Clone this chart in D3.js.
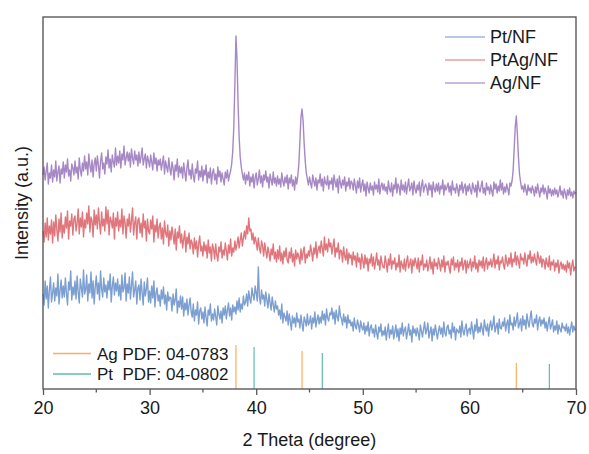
<!DOCTYPE html>
<html>
<head>
<meta charset="utf-8">
<script src="https://cdn.jsdelivr.net/npm/d3@7"></script>
<style>
    body { margin: 0; background: #fff; }
    text { font-family: "Liberation Sans", Arial, sans-serif; fill: #1a1a1a; }
</style>
</head>
<body>
<svg id="chart" width="589" height="454"></svg>
<script>
// -----------------------------
// data (2θ from 20 to 70 in 0.1° steps)
// -----------------------------

const thetaStart = 20
const thetaStep = 0.1

const ptNF = [
    95,84,108,90,103,81,99,112,87,96,
    106,88,101,93,115,85,98,109,91,103,
    92,111,96,84,107,99,118,89,102,94,
    108,90,113,97,86,110,101,92,119,95,
    99,114,88,105,96,117,91,108,85,102,
    113,95,106,89,118,100,92,111,97,104,
    91,108,99,115,87,103,112,94,106,98,
    110,93,104,89,114,97,101,116,88,105,
    96,112,90,103,117,92,99,108,85,101,
    104,89,110,96,84,107,93,100,111,87,
    98,86,103,91,108,82,96,101,88,94,
    83,99,90,102,85,94,79,97,88,92,
    91,78,95,84,89,100,76,88,82,93,
    80,92,73,86,79,90,74,84,91,77,
    72,85,68,79,74,87,65,78,81,70,
    77,66,82,71,63,79,74,85,68,75,
    69,80,72,64,83,75,70,78,66,81,
    74,83,70,79,86,73,81,69,84,77,
    82,75,88,79,91,77,85,80,93,84,
    87,95,83,98,90,86,101,94,89,103,
    96,88,122,92,85,99,90,94,83,97,
    89,81,95,86,79,92,84,77,88,80,
    83,74,79,70,85,66,76,72,68,78,
    64,75,68,59,73,66,71,62,76,67,
    70,61,74,65,58,72,68,63,75,64,
    67,73,60,71,66,77,62,69,74,65,
    72,66,78,69,75,64,80,71,68,76,
    74,81,70,77,65,79,72,68,83,73,
    70,64,75,67,72,61,74,66,69,63,
    67,58,71,63,60,69,64,57,68,62,
    59,66,55,63,58,67,53,61,64,56,
    60,52,64,56,50,62,57,65,53,58,
    54,62,49,58,65,51,59,55,63,50,
    57,64,52,60,48,61,55,66,53,59,
    62,50,57,65,54,59,47,63,56,60,
    53,61,56,49,64,58,52,60,67,55,
    59,66,51,57,62,48,60,54,64,57,
    50,58,63,55,61,52,67,56,53,62,
    64,55,59,51,66,57,62,49,60,58,
    56,63,52,68,58,54,61,65,53,59,
    61,55,67,59,50,64,58,70,56,62,
    57,66,60,54,69,62,58,65,53,63,
    68,59,64,73,57,62,66,55,70,61,
    60,67,63,71,58,65,69,56,74,64,
    66,59,72,63,68,76,61,65,70,58,
    73,64,69,60,75,67,62,71,78,65,
    62,70,66,74,59,68,72,63,69,65,
    71,61,67,58,66,72,60,64,69,57,
    63,59,68,55,64,60,57,66,61,62,
    58,65,56,62,54,61,67,57,63,59,
    60
]

const ptAgNF = [
    158,147,166,152,171,149,163,155,169,146,
    167,153,174,159,148,170,157,176,151,164,
    156,172,161,178,150,168,163,175,154,170,
    173,158,166,180,155,171,162,177,152,169,
    161,176,165,183,157,172,168,152,179,164,
    174,160,181,166,155,177,163,170,158,182,
    165,179,154,172,168,161,176,150,171,163,
    177,158,169,162,180,155,173,166,151,170,
    163,175,157,168,181,154,166,172,150,169,
    171,156,166,152,175,161,168,148,170,158,
    155,169,160,173,147,164,157,170,151,162,
    166,150,161,145,168,156,152,164,143,158,
    149,162,154,145,160,139,157,151,163,146,
    155,141,150,158,137,152,145,156,140,149,
    146,135,151,140,148,132,145,153,138,143,
    133,147,138,144,131,149,136,142,128,145,
    140,130,145,134,128,142,137,147,131,139,
    134,146,138,129,144,136,150,133,141,137,
    148,139,145,152,141,149,156,143,151,158,
    150,163,155,171,158,160,149,156,145,152,
    147,139,151,141,136,148,143,133,146,138,
    131,142,136,128,140,134,145,130,137,127,
    139,130,143,128,136,125,138,132,141,129,
    126,137,131,141,127,135,123,139,130,136,
    132,125,140,129,137,142,126,135,131,138,
    133,144,137,128,141,135,147,131,139,143,
    136,148,141,133,152,139,145,137,150,142,
    146,135,143,150,132,141,137,146,130,139,
    138,127,142,133,129,140,125,136,131,134,
    124,137,129,133,122,136,127,131,120,135,
    128,121,134,125,131,118,130,126,135,123,
    132,120,127,136,124,129,119,133,126,122,
    121,133,126,117,130,124,135,120,128,125,
    131,119,126,122,134,117,128,124,120,130,
    118,127,133,121,125,130,116,129,123,131,
    126,120,131,117,128,124,134,119,125,122,
    129,118,124,132,120,127,115,130,123,126,
    120,131,125,118,129,122,133,117,127,124,
    128,121,116,130,124,132,119,126,122,129,
    117,127,123,131,119,125,129,116,128,121,
    125,130,118,127,122,133,120,126,117,129,
    123,128,121,132,118,126,131,120,127,124,
    130,122,127,135,121,129,125,133,119,128,
    126,132,124,120,134,127,123,131,125,136,
    122,130,127,137,124,133,128,121,135,129,
    131,125,136,128,123,134,130,138,126,132,
    127,135,129,124,137,131,126,133,122,130,
    128,120,131,125,122,133,119,127,124,129,
    118,126,122,129,116,124,127,120,125,119,
    124,117,128,121,126,114,123,129,118,122,
    121
]

const agNF = [
    214,222,209,218,226,205,216,211,224,207,
    219,212,228,208,217,223,206,220,215,227,
    211,224,217,230,213,219,208,225,221,214,
    228,216,222,210,231,219,213,226,218,233,
    220,227,214,235,223,217,229,212,225,231,
    218,233,224,211,228,236,220,226,215,232,
    225,239,221,230,217,234,227,222,241,224,
    233,226,238,221,235,229,243,224,231,237,
    228,236,222,240,231,225,238,229,234,223,
    237,226,232,241,224,230,235,221,233,228,
    222,234,227,219,236,225,231,218,229,224,
    230,219,226,233,215,228,222,217,231,220,
    214,227,221,209,224,218,230,212,223,216,
    222,211,226,217,208,221,229,214,219,210,
    225,213,207,220,216,228,209,218,212,223,
    208,219,214,224,206,217,211,221,205,216,
    220,209,215,205,222,212,218,207,216,210,
    204,217,211,219,208,214,218,225,238,262,
    305,353,330,285,252,232,222,215,209,216,
    205,214,209,217,203,212,207,215,201,211,
    216,204,210,219,206,213,202,214,209,218,
    207,212,201,215,209,204,217,206,211,203,
    213,205,210,202,216,208,203,212,206,214,
    200,211,206,214,203,209,199,212,205,213,
    225,248,272,280,268,245,228,216,210,204,
    212,206,201,214,208,203,211,199,209,206,
    215,203,210,198,212,206,204,213,200,208,
    205,211,199,214,207,202,210,196,213,206,
    201,209,204,212,198,207,203,211,200,208,
    206,199,210,203,196,208,201,211,197,204,
    209,198,205,193,207,201,196,206,199,203,
    194,207,200,204,197,210,195,203,206,199,
    205,198,202,195,208,200,197,206,193,204,
    200,211,196,205,202,194,209,199,204,197,
    207,195,203,210,198,201,206,194,208,200,
    196,204,199,207,193,203,209,197,202,205,
    201,194,206,199,204,192,207,200,197,205,
    198,206,195,203,200,209,194,204,199,202,
    206,197,203,194,208,199,201,196,205,200,
    193,204,199,207,196,202,205,194,203,198,
    205,199,195,206,201,197,204,192,208,200,
    197,203,208,196,201,194,206,199,202,195,
    204,198,193,207,200,205,196,203,198,209,
    199,206,195,202,197,205,200,194,206,203,
    208,218,240,262,273,255,232,215,207,200,
    203,197,205,199,194,204,198,201,196,203,
    199,193,202,196,205,198,192,201,197,204,
    195,201,197,190,203,196,200,193,199,194,
    201,195,199,192,197,203,194,198,191,200,
    196,190,199,194,201,193,197,191,198,195,
    197
]

const seriesNames = ['Pt/NF', 'PtAg/NF', 'Ag/NF']
const seriesValues = [ptNF, ptAgNF, agNF]
const seriesColours = ['#7c9fd1', '#e0767c', '#a688c5']
const legendColours = ['#9db6dd', '#eb9da1', '#bba3d3']

// reference patterns: 2θ position and stick height
const agPdfName = 'Ag PDF: 04-0783'
const agPdfTheta = [38.1, 44.3, 64.4]
const agPdfHeight = [44, 38, 26]
const ptPdfName = 'Pt\u00a0 PDF: 04-0802'
const ptPdfTheta = [39.8, 46.2, 67.5]
const ptPdfHeight = [42, 36, 25]
const pdfColours = ['#ffab5c', '#5dbcb0']

const xTicks = [20, 30, 40, 50, 60, 70]
const xMinorTicks = [25, 35, 45, 55, 65]

// -----------------------------
// layout
// -----------------------------

const margin = {left: 43, right: 13, top: 17, bottom: 65}
const w = 589
const h = 454

const xScale = d3.scaleLinear()
    .domain([20, 70])
    .range([margin.left, w - margin.right])

const yScale = d3.scaleLinear()
    .domain([0, 372])
    .range([h - margin.bottom, margin.top])

const svg = d3.select('#chart')

// -----------------------------
// curves
// -----------------------------

const line = d3.line()
    .x((d, i) => xScale(thetaStart + i * thetaStep))
    .y(d => yScale(d))

svg.append('g')
    .attr('id', 'curves')
    .selectAll('path')
    .data(seriesValues)
    .enter()
    .append('path')
    .attr('d', line)
    .attr('fill', 'none')
    .attr('stroke', (d, i) => seriesColours[i])
    .attr('stroke-width', 1.4)
    .attr('stroke-linejoin', 'round')

// PDF sticks
const sticks = agPdfTheta.map((t, i) => ({t: t, hgt: agPdfHeight[i], c: pdfColours[0]}))
    .concat(ptPdfTheta.map((t, i) => ({t: t, hgt: ptPdfHeight[i], c: pdfColours[1]})))

svg.append('g')
    .selectAll('line')
    .data(sticks)
    .enter()
    .append('line')
    .attr('x1', d => xScale(d.t))
    .attr('x2', d => xScale(d.t))
    .attr('y1', yScale(0))
    .attr('y2', d => yScale(d.hgt))
    .attr('stroke', d => d.c)
    .attr('stroke-width', 1.2)

// -----------------------------
// axes and frame
// -----------------------------

const frameColour = '#5a5a5a'

svg.append('rect')
    .attr('x', margin.left)
    .attr('y', margin.top)
    .attr('width', w - margin.left - margin.right)
    .attr('height', h - margin.top - margin.bottom)
    .attr('fill', 'none')
    .attr('stroke', frameColour)
    .attr('stroke-width', 1.4)

const xAxis = d3.axisBottom(xScale)
    .tickValues(xTicks)
    .tickSize(6)
    .tickSizeOuter(0)
    .tickPadding(6)

const gx = svg.append('g')
    .attr('transform', 'translate(0,' + (h - margin.bottom) + ')')
    .call(xAxis)
gx.select('.domain').remove()
gx.selectAll('.tick line').attr('stroke', frameColour).attr('stroke-width', 1.3)
gx.selectAll('.tick text')
    .attr('font-size', 18)
    .attr('font-family', '"Liberation Sans", Arial, sans-serif')
    .attr('fill', '#1a1a1a')

svg.append('g')
    .selectAll('line')
    .data(xMinorTicks)
    .enter()
    .append('line')
    .attr('x1', d => xScale(d))
    .attr('x2', d => xScale(d))
    .attr('y1', h - margin.bottom)
    .attr('y2', h - margin.bottom + 3.5)
    .attr('stroke', frameColour)
    .attr('stroke-width', 1.3)

svg.append('text')
    .attr('x', (margin.left + w - margin.right) / 2)
    .attr('y', 446)
    .attr('text-anchor', 'middle')
    .attr('font-size', 18)
    .text('2 Theta (degree)')

svg.append('text')
    .attr('transform', 'translate(28,' + 203 + ') rotate(-90)')
    .attr('text-anchor', 'middle')
    .attr('font-size', 18)
    .text('Intensity (a.u.)')

// -----------------------------
// legends
// -----------------------------

const legend = svg.append('g').attr('id', 'legend')
seriesNames.forEach((name, i) => {
    const y = 37 + i * 23
    legend.append('line')
        .attr('x1', 445).attr('x2', 485)
        .attr('y1', y).attr('y2', y)
        .attr('stroke', legendColours[i])
        .attr('stroke-width', 1.3)
    legend.append('text')
        .attr('x', 490)
        .attr('y', y + 6)
        .attr('font-size', 18)
        .text(name)
})

const pdfLegend = svg.append('g').attr('id', 'pdf-legend')
;[agPdfName, ptPdfName].forEach((name, i) => {
    const y = 353.5 + i * 20.5
    pdfLegend.append('line')
        .attr('x1', 53).attr('x2', 91)
        .attr('y1', y).attr('y2', y)
        .attr('stroke', pdfColours[i])
        .attr('stroke-width', 1.3)
    pdfLegend.append('text')
        .attr('x', 97)
        .attr('y', y + 6)
        .attr('font-size', 17)
        .text(name)
})
</script>
</body>
</html>
